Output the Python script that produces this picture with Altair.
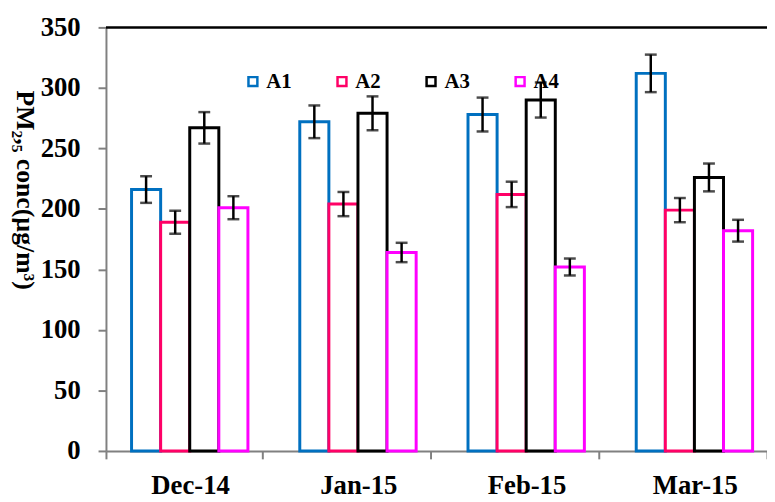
import altair as alt
import pandas as pd

months = ["Dec-14", "Jan-15", "Feb-15", "Mar-15"]
series = ["A1", "A2", "A3", "A4"]
colors = ["#0070C0", "#FF0066", "#000000", "#FF00FF"]

a1 = [216, 272, 278, 312]
a2 = [189, 204, 212, 199]
a3 = [267, 279, 290, 226]
a4 = [201, 164, 152, 182]

e1 = [11, 13.5, 14, 15.5]
e2 = [9.5, 10, 10.5, 10]
e3 = [13, 14, 14.5, 11.5]
e4 = [9.5, 8, 7, 9]

y_ticks = [0, 50, 100, 150, 200, 250, 300, 350]

rows = []
for s, vals, errs in zip(series, [a1, a2, a3, a4], [e1, e2, e3, e4]):
    for m, v, e in zip(months, vals, errs):
        rows.append({"month": m, "series": s, "value": v, "lo": v - e, "hi": v + e})
df = pd.DataFrame(rows)

FONT = "Liberation Serif"

x_enc = alt.X(
    "month:N",
    sort=months,
    scale=alt.Scale(paddingInner=0.0706, paddingOuter=0, align=0.5),
    axis=alt.Axis(
        title=None,
        labelAngle=0,
        labelOffset=6,
        tickBand="extent",
        tickSize=8,
        tickWidth=2,
        tickColor="#808080",
        domainColor="#808080",
        domainWidth=2,
        labelFont=FONT,
        labelFontSize=27,
        labelFontWeight="bold",
        labelColor="black",
        labelPadding=14,
    ),
)
xoff = alt.XOffset("series:N", sort=series,
                   scale=alt.Scale(paddingOuter=0.687, paddingInner=0, align=0.64))
y_scale = alt.Scale(domain=[0, 350], nice=False, zero=True)

bars = alt.Chart(df).mark_bar(fill="white", strokeWidth=3).encode(
    x=x_enc,
    xOffset=xoff,
    y=alt.Y(
        "value:Q",
        scale=y_scale,
        axis=alt.Axis(
            values=y_ticks,
            grid=False,
            tickSize=8,
            tickWidth=2,
            tickColor="#808080",
            domainColor="#808080",
            domainWidth=2,
            labelFont=FONT,
            labelFontSize=27,
            labelFontWeight="bold",
            labelColor="black",
            labelPadding=18,
            title="PM\u2082,\u2085 conc(\u00b5g/m\u00b3)",
            titleFont=FONT,
            titleFontSize=26,
            titleFontWeight="bold",
            titleColor="black",
            titleAngle=90,
            titleX=-90,
            titleY=164,
            titleAlign="center",
            titleBaseline="alphabetic",
        ),
    ),
    stroke=alt.Stroke(
        "series:N",
        sort=series,
        scale=alt.Scale(domain=series, range=colors),
        legend=alt.Legend(
            title=None,
            orient="none",
            legendX=138,
            legendY=44,
            direction="horizontal",
            columnPadding=40,
            symbolType="square",
            symbolSize=81,
            symbolStrokeWidth=2.5,
            symbolFillColor="white",
            labelFont=FONT,
            labelFontSize=21,
            labelFontWeight="bold",
            labelColor="black",
            labelOffset=3,
            padding=0,
        ),
    ),
)

err = alt.Chart(df).mark_rule(color="black", strokeWidth=2.5).encode(
    x=alt.X("month:N", sort=months),
    xOffset=alt.XOffset("series:N", sort=series),
    y=alt.Y("lo:Q", scale=y_scale),
    y2="hi:Q",
)
cap_lo = alt.Chart(df).mark_tick(color="black", thickness=2.5, size=12, orient="horizontal").encode(
    x=alt.X("month:N", sort=months),
    xOffset=alt.XOffset("series:N", sort=series),
    y=alt.Y("lo:Q", scale=y_scale),
)
cap_hi = alt.Chart(df).mark_tick(color="black", thickness=2.5, size=12, orient="horizontal").encode(
    x=alt.X("month:N", sort=months),
    xOffset=alt.XOffset("series:N", sort=series),
    y=alt.Y("hi:Q", scale=y_scale),
)

top = alt.Chart(pd.DataFrame({"top": [350]})).mark_rule(color="black", strokeWidth=2.5).encode(
    y=alt.Y("top:Q", scale=y_scale)
)

chart = alt.layer(bars, err, cap_lo, cap_hi, top).properties(
    width=668,
    height=428,
    autosize=alt.AutoSizeParams(type="none"),
    padding={"left": 99, "top": 17, "right": 0, "bottom": 49},
).configure_view(stroke="transparent")

chart.save("out.html", embed_options={"renderer": "svg", "actions": False})
